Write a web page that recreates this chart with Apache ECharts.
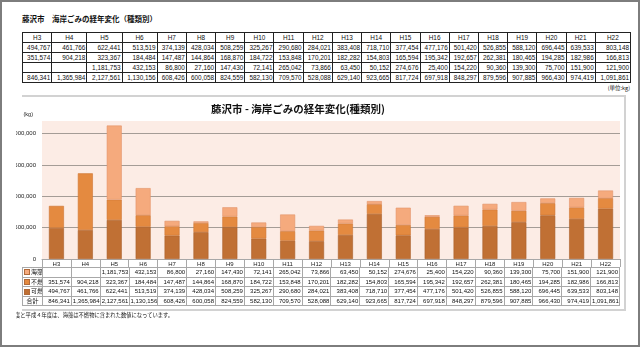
<!DOCTYPE html>
<html><head><meta charset="utf-8">
<script src="https://cdn.jsdelivr.net/npm/echarts@6/dist/echarts.min.js"></script>
<style>
body{margin:0;background:#fff;}
#frame{position:absolute;left:0;top:0;width:640px;height:347px;box-sizing:border-box;border:2px solid #7d7d7d;}
#clip{position:absolute;left:16px;top:2px;width:622px;height:343px;overflow:hidden;}
#page{position:absolute;left:-16px;top:-2px;width:640px;height:347px;font-family:"Liberation Sans","Noto Sans CJK JP",sans-serif;color:#111;}
#t1{position:absolute;left:22px;top:13px;font-weight:bold;font-size:7.5px;font-family:"Noto Sans CJK JP";white-space:nowrap;}
#top{position:absolute;left:22px;top:32px;width:609px;border-collapse:collapse;font-size:6.4px;}
#top td{border:1px solid #222;height:9px;padding:0 1px;text-align:right;line-height:9px;white-space:nowrap;}
#top tr:first-child td{text-align:center;}
#unit{position:absolute;right:10px;top:84px;font-size:5.5px;font-family:"Noto Sans CJK JP";white-space:nowrap;}
#box{position:absolute;left:22px;top:95px;width:602px;height:212px;border-top:2px solid #d2d2d2;border-right:2px solid #d2d2d2;border-bottom:2px solid #d2d2d2;}
#chart{position:absolute;left:0;top:96px;width:626px;height:214px;}
#bot{position:absolute;left:22px;top:267px;width:598px;border-collapse:collapse;table-layout:fixed;font-size:6px;}
#bot td{border:1px solid #a8a8a8;height:8.6px;line-height:8.6px;padding:0 1px;text-align:right;white-space:nowrap;overflow:hidden;}
#bot td.lab{text-align:left;padding-left:1px;font-family:"Noto Sans CJK JP";}
#bot td.sum{text-align:center;font-family:"Noto Sans CJK JP";}
.key{display:inline-block;width:4px;height:4px;margin-right:1px;vertical-align:middle;border:0.5px solid #b06a3a;}
#note{position:absolute;left:9.7px;top:311px;font-size:5.3px;font-family:"Noto Sans CJK JP";white-space:nowrap;}
</style></head>
<body>
<div id="frame"></div>
<div id="clip"><div id="page">
<div id="t1">藤沢市　海岸ごみの経年変化（種類別）</div>
<table id="top"></table>
<div id="unit">(単位:kg)</div>
<div id="box"></div>
<div id="chart"></div>
<table id="bot"></table>
<div id="note">年度と平成４年度は、海藻は不燃物に含まれた数値になっています。</div>
</div></div>
<script>
const categories = ['H3','H4','H5','H6','H7','H8','H9','H10','H11','H12','H13','H14','H15','H16','H17','H18','H19','H20','H21','H22'];
const kanen = [494767,461766,622441,513519,374139,428034,508259,325267,290680,284021,383408,718710,377454,477176,501420,526855,588120,696445,639533,803148];
const funen = [351574,904218,323367,184484,147487,144864,168870,184722,153848,170201,182282,154803,165594,195342,192657,262381,180465,194285,182986,166813];
const kaiso = [null,null,1181753,432153,86800,27160,147430,72141,265042,73866,63450,50152,274676,25400,154220,90360,139300,75700,151900,121900];
const total = [846341,1365984,2127561,1130156,608426,600058,824559,582130,709570,528088,629140,923665,817724,697918,848297,879596,907885,966430,974419,1091861];
const names = {kaiso:'海藻', funen:'不燃', kanen:'可燃', total:'合計'};
const colors = {kaiso:'#f5aa7d', funen:'#e48a40', kanen:'#c07034'};
const borders = {kaiso:'#e2946a', funen:'#cf7633', kanen:'#a95f2a'};

const fmt = v => (v === null || v === undefined) ? '' : v.toLocaleString('en-US');

// top table
let h = '<tr>' + categories.map(c => '<td>' + c + '</td>').join('') + '</tr>';
[kanen, funen, kaiso, total].forEach(arr => {
  h += '<tr>' + arr.map(v => '<td>' + fmt(v) + '</td>').join('') + '</tr>';
});
document.getElementById('top').innerHTML = h;

// bottom data table
let b = '<colgroup><col style="width:20px">' + categories.map(() => '<col>').join('') + '</colgroup>';
[['kaiso', kaiso], ['funen', funen], ['kanen', kanen]].forEach(([k, arr]) => {
  b += '<tr><td class="lab"><span class="key" style="background:' + colors[k] + '"></span>' + names[k] + '</td>' +
       arr.map(v => '<td>' + fmt(v) + '</td>').join('') + '</tr>';
});
b += '<tr><td class="sum">' + names.total + '</td>' + total.map(v => '<td>' + fmt(v) + '</td>').join('') + '</tr>';
document.getElementById('bot').innerHTML = b;

const chart = echarts.init(document.getElementById('chart'));
function bar(key, arr) {
  return {
    name: names[key], type: 'bar', stack: 'total', data: arr, barWidth: 15,
    itemStyle: {color: colors[key], borderColor: borders[key], borderWidth: 0.6},
    emphasis: {disabled: true}
  };
}
chart.setOption({
  animation: false,
  title: {
    text: '藤沢市 - 海岸ごみの経年変化(種類別)', left: 206, top: 3,
    textStyle: {fontSize: 10.5, fontWeight: 'bold', color: '#111', fontFamily: 'Noto Sans CJK JP'}
  },
  grid: {left: 42, right: 6, top: 25, height: 138, show: true, backgroundColor: '#fcece5', borderWidth: 0},
  xAxis: {
    type: 'category', data: categories,
    axisLine: {lineStyle: {color: '#a8a8a8', width: 1}},
    axisTick: {show: true, length: 8, interval: 0, lineStyle: {color: '#a8a8a8'}},
    axisLabel: {fontSize: 6, margin: 2, color: '#222', interval: 0, fontFamily: 'Liberation Sans'}
  },
  yAxis: {
    type: 'value', min: 0, max: 2200000, interval: 500000,
    name: '(kg)', nameGap: 4,
    nameTextStyle: {fontSize: 5.5, align: 'right', padding: [0, 9, 0, 0], color: '#222'},
    axisLine: {show: false}, axisTick: {show: false},
    axisLabel: {fontSize: 6, margin: 6, color: '#222', showMaxLabel: false, fontFamily: 'Liberation Sans', formatter: v => v.toLocaleString('en-US')},
    splitLine: {show: true, showMinLine: false, showMaxLine: false, lineStyle: {color: '#a49c96', width: 1}}
  },
  series: [bar('kanen', kanen), bar('funen', funen), bar('kaiso', kaiso)]
});
</script>
</body></html>
